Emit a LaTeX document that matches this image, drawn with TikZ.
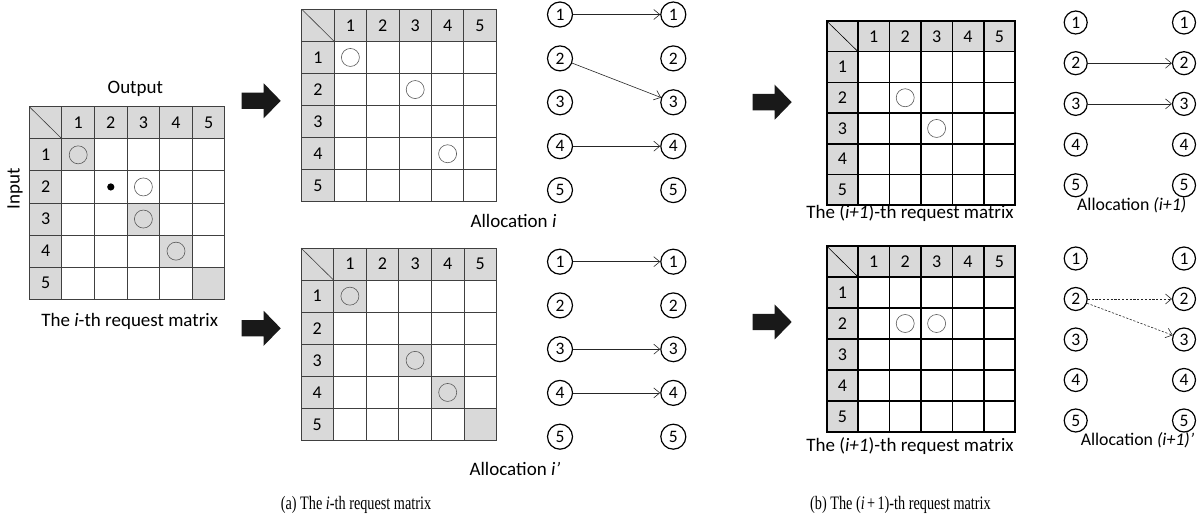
\documentclass[tikz,border=0pt]{standalone}
\usepackage{fontspec}
\usepackage{graphicx}
\setmainfont{Carlito}
\newfontfamily\capfont{Liberation Serif}
\usetikzlibrary{arrows.meta}
\definecolor{cellgray}{HTML}{D9D9D9}
\definecolor{gridgray}{HTML}{404040}
\definecolor{circgray}{HTML}{5A5A5A}
\tikzset{
  celltext/.style={inner sep=0pt, font=\fontsize{18}{20}\selectfont},
  lbl/.style={inner sep=0pt, font=\fontsize{19}{22}\selectfont},
  slbl/.style={inner sep=0pt, font=\fontsize{17.8}{20}\selectfont},
  caplbl/.style={inner sep=0pt, font=\capfont\fontsize{19}{22}\selectfont},
  reqcirc/.style={draw=circgray, line width=0.6pt},
  thingrid/.style={draw=gridgray, line width=0.9pt},
  thickgrid/.style={draw=black, line width=1.6pt},
  cn/.style={circle, draw=black, line width=1.2pt, minimum size=25pt, inner sep=0pt, font=\fontsize{17.5}{19}\selectfont},
  cns/.style={cn, minimum size=23pt},
  conn/.style={draw=black!85, line width=0.6pt, -{Straight Barb[length=6pt,width=10pt]}},
  dconn/.style={conn, dash pattern=on 2.2pt off 1.6pt},
  bigarrow/.style={fill=black!90, draw=none}
}
\newcommand{\reqmat}[8]{%
  \begin{scope}[shift={(#2,#3)}, x=#4pt, y=-#5pt]
    \fill[cellgray] (0,0) rectangle (6,1);
    \fill[cellgray] (0,0) rectangle (1,6);
    \foreach \c/\r in {#7} {\fill[cellgray] (\c,\r) rectangle ++(1,1);}
    \foreach \k in {1,...,5} {\draw[#6] (\k,0) -- (\k,6); \draw[#6] (0,\k) -- (6,\k);}
    \draw[#6] (0,0) rectangle (6,6);
    \draw[#6, line width=0.6pt] (0,0) -- (1,1);
    \foreach \k in {1,...,5} {%
      \node[celltext] (#1c\k) at (\k+0.5,0.5) {\k};
      \node[celltext] (#1r\k) at (0.5,\k+0.5) {\k};}
    \foreach \c/\r in {#8} {\draw[reqcirc] (\c+0.5,\r+0.5) circle[radius=9pt];}
  \end{scope}}
\newcommand{\bigarr}[2]{%
  \fill[bigarrow] (#1,#2-8.2) -- (#1+22,#2-8.2) -- (#1+22,#2-17.5) -- (#1+39,#2)
    -- (#1+22,#2+17.5) -- (#1+22,#2+8.2) -- (#1,#2+8.2) -- cycle;}
\begin{document}
\begin{tikzpicture}[x=1pt, y=-1pt]
\useasboundingbox (0,0) rectangle (1200,521);
\fill[white] (0,0) rectangle (1200,521);

% ---------- left request matrix ----------
\reqmat{m0}{29.3}{106.7}{32.6}{32.1}{thingrid}{1/1,3/3,4/4,5/5}{1/1,3/2,3/3,4/4}
\fill[black] (29.3+2.5*32.6,106.7+2.5*32.1) circle[radius=3.6pt];
\node[lbl] (out) at (135.3,89) {Output};
\node[lbl, rotate=90] (inp) at (15,189) {Input};
\node[lbl] (cap0) at (129.7,321.5) {The \textit{i}-th request matrix};

% ---------- middle top ----------
\bigarr{241.7}{100.8}
\reqmat{m1}{301.8}{9.3}{32.4}{32.1}{thingrid}{0/0}{1/1,3/2,4/4}
\node[lbl] (al1) at (513.5,220.5) {Allocation \textit{i}};
\foreach \k/\yy in {1/14.5,2/58.4,3/102.3,4/146.2,5/190.1} {
  \node[cn] (aL\k) at (560,\yy) {\k};
  \node[cn] (aR\k) at (673.3,\yy) {\k};}
\draw[conn] (aL1) -- (aR1);
\draw[conn] (aL2) -- (aR3);
\draw[conn] (aL4) -- (aR4);

% ---------- middle bottom ----------
\bigarr{241.7}{328.3}
\reqmat{m2}{301.0}{248}{32.6}{32.1}{thingrid}{1/1,3/3,4/4,5/5}{1/1,3/3,4/4}
\node[lbl] (al2) at (515,468.5) {Allocation \textit{i’}};
\foreach \k/\yy in {1/261.7,2/305.4,3/349.2,4/392.9,5/436.7} {
  \node[cn] (bL\k) at (560,\yy) {\k};
  \node[cn] (bR\k) at (673.3,\yy) {\k};}
\draw[conn] (bL1) -- (bR1);
\draw[conn] (bL3) -- (bR3);
\draw[conn] (bL4) -- (bR4);

% ---------- right top ----------
\bigarr{752.7}{102.2}
\reqmat{m3}{826.7}{21}{31.4}{30.7}{thickgrid}{0/0}{2/2,3/3}
\node[lbl] (cap3) at (910,213.5) {The (\textit{i+1})-th request matrix};
\node[slbl] (al3) at (1131.7,205) {Allocation \textit{(i+1)}};
\foreach \k/\yy in {1/22.5,2/63.2,3/103.9,4/144.6,5/185.3} {
  \node[cns] (cL\k) at (1075.7,\yy) {\k};
  \node[cns] (cR\k) at (1184,\yy) {\k};}
\draw[conn] (cL2) -- (cR2);
\draw[conn] (cL3) -- (cR3);

% ---------- right bottom ----------
\bigarr{752.7}{322}
\reqmat{m4}{826.7}{246}{31.4}{31}{thickgrid}{0/0}{2/2,3/2}
\node[lbl] (cap4) at (910,446) {The (\textit{i+1})-th request matrix};
\node[slbl] (al4) at (1137.5,440.5) {Allocation \textit{(i+1)’}};
\foreach \k/\yy in {1/258.5,2/299,3/339.5,4/380,5/420.5} {
  \node[cns] (dL\k) at (1075.7,\yy) {\k};
  \node[cns] (dR\k) at (1184,\yy) {\k};}
\draw[dconn] (dL2) -- (dR2);
\draw[dconn] (dL2) -- (dR3);

% ---------- captions ----------
\node[caplbl] (capa) at (356,505) {\scalebox{0.75}[1]{(a) The \textit{i}-th request matrix}};
\node[caplbl] (capb) at (900.5,505) {\scalebox{0.75}[1]{(b) The (\textit{i}\,+\,1)-th request matrix}};
\end{tikzpicture}
\end{document}
